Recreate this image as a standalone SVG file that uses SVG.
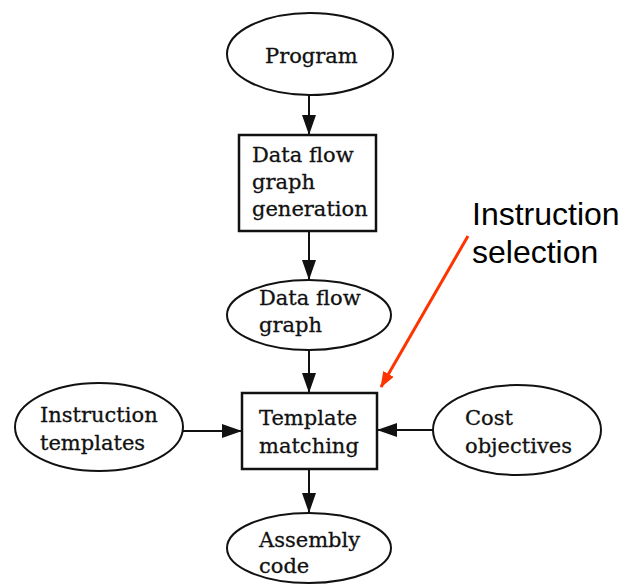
<svg xmlns="http://www.w3.org/2000/svg" width="634" height="586" viewBox="0 0 634 586">
  <style>
    .shape { fill: #ffffff; stroke: #111111; stroke-width: 2; }
    .box { stroke-width: 2.5; }
    .lbl { font-family: "DejaVu Serif", "Liberation Serif", serif; font-size: 21px; fill: #111111; stroke: #111111; stroke-width: 0.3; }
    .edge { stroke: #111111; stroke-width: 2; fill: none; marker-end: url(#head); }
    .note { font-family: "Liberation Sans", Arial, sans-serif; font-size: 32px; fill: #000000; }
  </style>
  <defs>
    <marker id="head" markerUnits="userSpaceOnUse" markerWidth="20" markerHeight="14" refX="20" refY="7" orient="auto">
      <path d="M0,0 L20,7 L0,14 z" fill="#111111"/>
    </marker>
    <marker id="redhead" markerUnits="userSpaceOnUse" markerWidth="16" markerHeight="12" refX="15" refY="6" orient="auto">
      <path d="M0,0 L16,6 L0,12 z" fill="#ff3300"/>
    </marker>
  </defs>

  <g id="connectors">
    <line class="edge" x1="309" y1="95" x2="309" y2="135"/>
    <line class="edge" x1="309" y1="231" x2="309" y2="280"/>
    <line class="edge" x1="309" y1="350" x2="309" y2="393"/>
    <line class="edge" x1="309" y1="469" x2="309" y2="513"/>
    <line class="edge" x1="183" y1="431" x2="242" y2="431"/>
    <line class="edge" x1="433" y1="430" x2="377" y2="430"/>
    <line x1="468" y1="236" x2="381" y2="387" stroke="#ff3300" stroke-width="3" marker-end="url(#redhead)"/>
  </g>

  <g id="program">
    <ellipse class="shape" cx="310" cy="54" rx="83" ry="41"/>
    <text class="lbl" x="265" y="63">Program</text>
  </g>

  <g id="dfg-generation">
    <rect class="shape box" x="239" y="135" width="137" height="96"/>
    <text class="lbl" x="252" y="162">Data flow</text>
    <text class="lbl" x="252" y="189">graph</text>
    <text class="lbl" x="252" y="216">generation</text>
  </g>

  <g id="dfg">
    <ellipse class="shape" cx="309" cy="315" rx="82" ry="35"/>
    <text class="lbl" x="259" y="305">Data flow</text>
    <text class="lbl" x="259" y="332">graph</text>
  </g>

  <g id="template-matching">
    <rect class="shape box" x="242" y="393" width="135" height="76"/>
    <text class="lbl" x="259" y="425">Template</text>
    <text class="lbl" x="259" y="453">matching</text>
  </g>

  <g id="instruction-templates">
    <ellipse class="shape" cx="99" cy="427" rx="84" ry="44"/>
    <text class="lbl" x="40" y="422">Instruction</text>
    <text class="lbl" x="40" y="450">templates</text>
  </g>

  <g id="cost-objectives">
    <ellipse class="shape" cx="517" cy="430" rx="84" ry="45"/>
    <text class="lbl" x="465" y="425">Cost</text>
    <text class="lbl" x="465" y="453">objectives</text>
  </g>

  <g id="assembly-code">
    <ellipse class="shape" cx="309" cy="548" rx="82" ry="35"/>
    <text class="lbl" x="259" y="547">Assembly</text>
    <text class="lbl" x="259" y="573">code</text>
  </g>

  <g id="instruction-selection">
    <text class="note" x="472" y="225">Instruction</text>
    <text class="note" x="472" y="263">selection</text>
  </g>
</svg>
